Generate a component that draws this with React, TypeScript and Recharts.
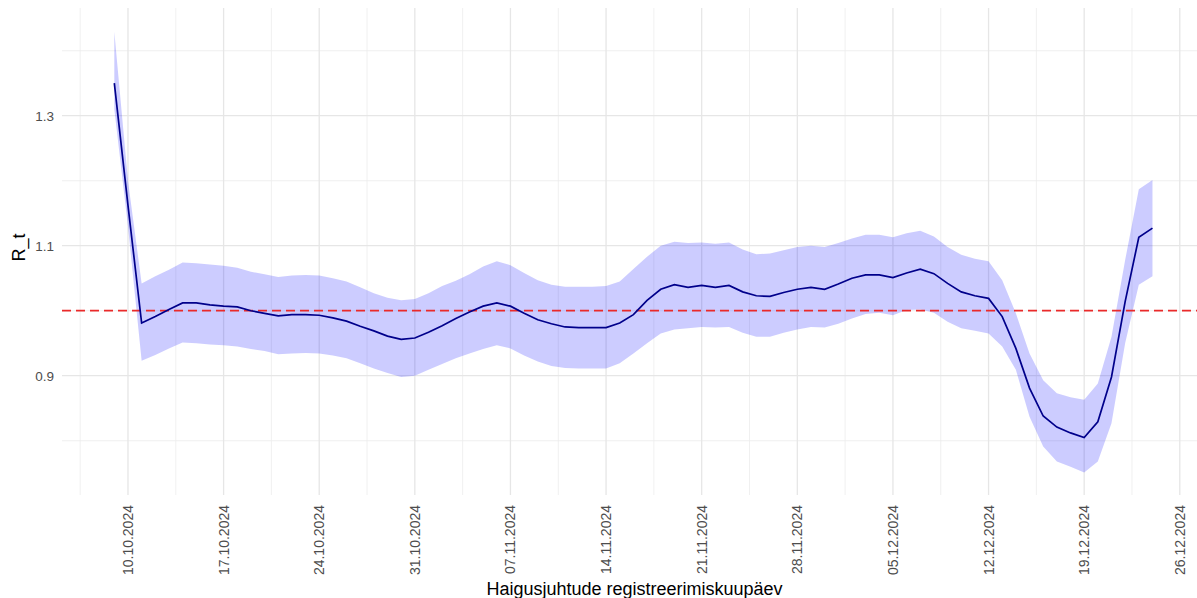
import { Area, CartesianGrid, ComposedChart, Line, ReferenceLine, XAxis, YAxis } from "recharts";

const DAY = 24 * 60 * 60 * 1000;
// first estimate is for 09.10.2024, one value per day after that
const START = Date.UTC(2024, 9, 9);

const R_MEAN = [
  1.35, 1.162, 0.981, 0.991, 1.002, 1.012, 1.012, 1.009, 1.007, 1.006, 1.0, 0.996, 0.992, 0.994, 0.994, 0.993,
  0.989, 0.984, 0.976, 0.969, 0.961, 0.956, 0.958, 0.967, 0.977, 0.988, 0.998, 1.007, 1.012, 1.007, 0.996, 0.986,
  0.98, 0.975, 0.974, 0.974, 0.974, 0.981, 0.994, 1.016, 1.033, 1.04, 1.036, 1.039, 1.036, 1.039, 1.029, 1.023,
  1.022, 1.028, 1.033, 1.036, 1.033, 1.041, 1.05, 1.055, 1.055, 1.051, 1.058, 1.064, 1.057, 1.042, 1.029, 1.023,
  1.019, 0.991, 0.942, 0.881, 0.838, 0.821, 0.812, 0.805, 0.829, 0.898, 1.014, 1.113, 1.127,
];

const R_LOWER = [
  1.31, 1.13, 0.923, 0.932, 0.942, 0.951, 0.95, 0.948, 0.947, 0.945, 0.941, 0.938, 0.933, 0.934, 0.935, 0.934,
  0.931, 0.927, 0.919, 0.911, 0.904, 0.898, 0.9, 0.909, 0.918, 0.927, 0.934, 0.941, 0.947, 0.942, 0.931, 0.922,
  0.915, 0.912, 0.911, 0.911, 0.911, 0.919, 0.934, 0.95, 0.965, 0.971, 0.973, 0.975, 0.974, 0.975, 0.966, 0.96,
  0.96, 0.966, 0.971, 0.975, 0.974, 0.98, 0.988, 0.995, 0.997, 0.993, 1.001, 1.002, 0.997, 0.983, 0.973, 0.969,
  0.965, 0.945, 0.909, 0.837, 0.791, 0.768, 0.76, 0.751, 0.768, 0.827, 0.95, 1.04, 1.053,
];

const R_UPPER = [
  1.429, 1.2, 1.042, 1.053, 1.063, 1.074, 1.073, 1.071, 1.069, 1.066, 1.06, 1.056, 1.052, 1.054, 1.055, 1.054,
  1.05, 1.045, 1.036, 1.027, 1.02, 1.016, 1.018, 1.027, 1.038, 1.046, 1.056, 1.068, 1.076, 1.07, 1.058, 1.047,
  1.04, 1.037, 1.037, 1.037, 1.038, 1.045, 1.064, 1.083, 1.1, 1.106, 1.104, 1.105, 1.103, 1.105, 1.094, 1.087,
  1.088, 1.093, 1.098, 1.1, 1.098, 1.104, 1.111, 1.117, 1.117, 1.113, 1.119, 1.123, 1.114, 1.098, 1.086, 1.08,
  1.076, 1.047, 0.996, 0.934, 0.893, 0.873, 0.867, 0.863, 0.888, 0.96, 1.078, 1.187, 1.201,
];

const TICK_LABELS = [
  "10.10.2024", "17.10.2024", "24.10.2024", "31.10.2024", "07.11.2024", "14.11.2024",
  "21.11.2024", "28.11.2024", "05.12.2024", "12.12.2024", "19.12.2024", "26.12.2024",
];
const Y_TICKS = [0.9, 1.1, 1.3];
const Y_MINOR = [0.8, 1.0, 1.2, 1.4];

const parseDate = (s: string) => {
  const [d, m, y] = s.split(".").map(Number);
  return Date.UTC(y, m - 1, d);
};

const tickTs = TICK_LABELS.map(parseDate);
const minorTs = tickTs.map((t) => t - 3.5 * DAY).filter((t) => t >= START - 4.8 * DAY);
const labelFor = new Map(tickTs.map((t, i) => [t, TICK_LABELS[i]]));

const data = R_MEAN.map((mean, i) => ({
  t: START + i * DAY,
  mean,
  band: [R_LOWER[i], R_UPPER[i]],
}));

const X_DOMAIN = [tickTs[0] - 4.83 * DAY, tickTs[0] + 78.26 * DAY];
const Y_DOMAIN = [0.7165, 1.4657];

const FONT = "'Liberation Sans', Arial, sans-serif";

function DateTick(props: any) {
  const { x, y, payload } = props;
  const ty = y + 2;
  return (
    <text
      x={x}
      y={ty}
      transform={`rotate(-90, ${x}, ${ty})`}
      textAnchor="end"
      dominantBaseline="central"
      fontSize={14}
      fontFamily={FONT}
      fill="#4d4d4d"
    >
      {labelFor.get(payload.value)}
    </text>
  );
}

export default function App() {
  return (
    <div style={{ position: "absolute", left: 0, top: 0, background: "#fff" }}>
      <ComposedChart width={1197} height={598} data={data} margin={{ top: 8, right: 0, bottom: 0, left: 0 }}>
        <CartesianGrid stroke="#ececec" strokeWidth={0.8} horizontalValues={Y_MINOR} verticalValues={minorTs} />
        <CartesianGrid stroke="#e6e6e6" strokeWidth={1.3} horizontalValues={Y_TICKS} verticalValues={tickTs} />
        <XAxis
          dataKey="t"
          type="number"
          domain={X_DOMAIN}
          allowDataOverflow
          ticks={tickTs}
          interval={0}
          axisLine={false}
          tickLine={false}
          height={103}
          tick={<DateTick />}
          label={{
            value: "Haigusjuhtude registreerimiskuupäev",
            position: "insideBottom",
            offset: 3,
            dx: 5,
            style: { fontSize: 18, fontFamily: FONT, fill: "#000" },
          }}
        />
        <YAxis
          type="number"
          domain={Y_DOMAIN}
          allowDataOverflow
          ticks={Y_TICKS}
          interval={0}
          width={62}
          axisLine={false}
          tickLine={false}
          tickFormatter={(v: number) => v.toFixed(1)}
          tick={{ fontSize: 13.5, fontFamily: FONT, fill: "#4d4d4d" }}
          label={{
            value: "R_t",
            angle: -90,
            position: "center",
            dx: -12,
            dy: -4,
            style: { fontSize: 18, fontFamily: FONT, fill: "#000" },
          }}
        />
        <Area
          dataKey="band"
          type="linear"
          stroke="none"
          fill="#0000ff"
          fillOpacity={0.2}
          dot={false}
          activeDot={false}
          isAnimationActive={false}
        />
        <ReferenceLine y={1} stroke="#ea2a2a" strokeWidth={1.8} strokeDasharray="9 5" />
        <Line
          dataKey="mean"
          type="linear"
          stroke="#00008b"
          strokeWidth={1.7}
          dot={false}
          activeDot={false}
          isAnimationActive={false}
        />
      </ComposedChart>
    </div>
  );
}
